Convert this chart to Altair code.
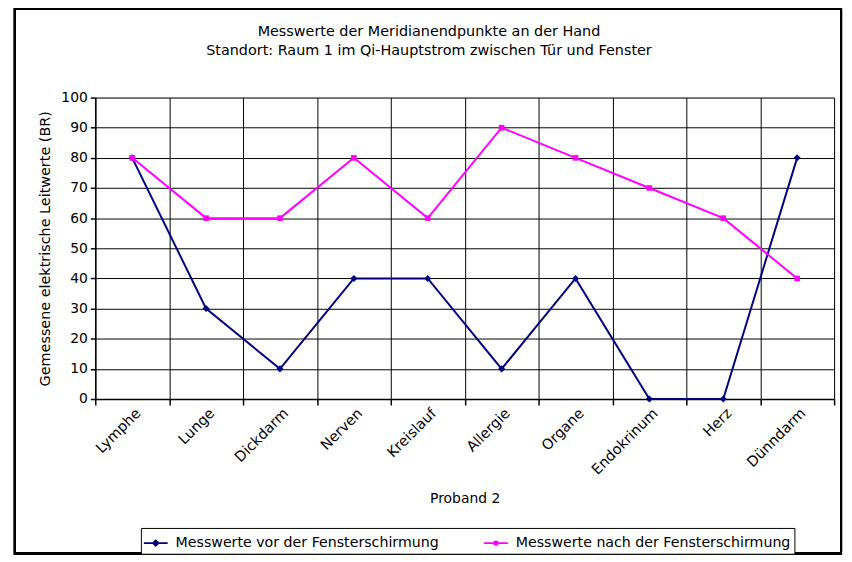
import altair as alt
import pandas as pd

categories = ["Lymphe", "Lunge", "Dickdarm", "Nerven", "Kreislauf",
              "Allergie", "Organe", "Endokrinum", "Herz", "Dünndarm"]
vor = [80, 30, 10, 40, 40, 10, 40, 0, 0, 80]
nach = [80, 60, 60, 80, 60, 90, 80, 70, 60, 40]
series_names = ["Messwerte vor der Fensterschirmung",
                "Messwerte nach der Fensterschirmung"]
series_colors = ["#000080", "#FF00FF"]
y_ticks = [0, 10, 20, 30, 40, 50, 60, 70, 80, 90, 100]

rows = []
for i, c in enumerate(categories):
    rows.append({"Kategorie": c, "Wert": vor[i], "Serie": series_names[0], "order": i})
    rows.append({"Kategorie": c, "Wert": nach[i], "Serie": series_names[1], "order": i})
df = pd.DataFrame(rows)

FONT = "DejaVu Sans"

diamond_leg = ("M-1,-0.07 L-0.26,-0.07 L0,-0.32 L0.26,-0.07 L1,-0.07 L1,0.07 "
               "L0.26,0.07 L0,0.32 L-0.26,0.07 L-1,0.07 Z")
square_leg = ("M-1,-0.07 L-0.2,-0.07 L-0.2,-0.2 L0.2,-0.2 L0.2,-0.07 L1,-0.07 "
              "L1,0.07 L0.2,0.07 L0.2,0.2 L-0.2,0.2 L-0.2,0.07 L-1,0.07 Z")

color_scale = alt.Scale(domain=series_names, range=series_colors)
legend = alt.Legend(title=None, orient="none", direction="horizontal",
                    legendX=46, legendY=434,
                    labelFont=FONT, labelFontSize=14.3, labelColor="black",
                    labelLimit=500,
                    symbolSize=576, symbolStrokeWidth=0, symbolOpacity=1,
                    labelOffset=8, columnPadding=45, padding=3,
                    fillColor="white", strokeColor="black")

x_enc = alt.X("Kategorie:N", sort=categories,
              scale=alt.Scale(paddingInner=0, paddingOuter=0),
              axis=alt.Axis(title="Proband 2", tickBand="extent", grid=True,
                            gridColor="black", gridOpacity=1, gridWidth=1,
                            domainColor="black", domainWidth=1.5,
                            tickColor="black", tickSize=6, tickWidth=1.5,
                            labelAngle=-45, labelAlign="right", labelBaseline="middle",
                            labelPadding=6, labelOffset=6,
                            labelFont=FONT, labelFontSize=14.5, labelColor="black",
                            titleFont=FONT, titleFontSize=14, titleFontWeight="normal",
                            titleColor="black", titleY=100, titleBaseline="middle"))
y_enc = alt.Y("Wert:Q", scale=alt.Scale(domain=[0, 100], nice=False),
              axis=alt.Axis(title="Gemessene elektrische Leitwerte (BR)",
                            values=y_ticks, grid=True, gridColor="black",
                            gridOpacity=1, gridWidth=1,
                            domainColor="black", domainWidth=1.5,
                            tickColor="black", tickSize=5, tickWidth=1.5,
                            labelFont=FONT, labelFontSize=14, labelColor="black",
                            labelPadding=3,
                            titleFont=FONT, titleFontSize=14.5, titleFontWeight="normal",
                            titleColor="black", titlePadding=8))

base = alt.Chart(df)

legend_layer = base.transform_filter("false").mark_point(
    filled=True, opacity=1).encode(
    x=x_enc, y=y_enc,
    color=alt.Color("Serie:N", scale=color_scale, legend=legend),
    shape=alt.Shape("Serie:N", scale=alt.Scale(domain=series_names,
                                               range=[diamond_leg, square_leg]),
                    legend=legend))

lines = base.mark_line(strokeWidth=2).encode(
    x=x_enc, y=y_enc,
    color=alt.Color("Serie:N", scale=color_scale, legend=legend),
    order="order:Q")

pts_vor = base.transform_filter(alt.datum.Serie == series_names[0]).mark_point(
    filled=True, size=50, opacity=1, shape="diamond").encode(
    x=x_enc, y=y_enc, color=alt.Color("Serie:N", scale=color_scale, legend=legend))
pts_nach = base.transform_filter(alt.datum.Serie == series_names[1]).mark_point(
    filled=True, size=32, opacity=1, shape="square").encode(
    x=x_enc, y=y_enc, color=alt.Color("Serie:N", scale=color_scale, legend=legend))

frame = base.mark_rect(fill=None, stroke="black", strokeWidth=2).encode(
    x=alt.value(-81), x2=alt.value(752), y=alt.value(-90), y2=alt.value(460))

chart = alt.layer(legend_layer, frame, lines, pts_vor, pts_nach).properties(
    width=745, height=304,
    title=alt.TitleParams(
        text=["Messwerte der Meridianendpunkte an der Hand",
              "Standort: Raum 1 im Qi-Hauptstrom zwischen Tür und Fenster"],
        font=FONT, fontSize=14.5, fontWeight="normal", color="black",
        anchor="middle", dx=-36, offset=-52, lineHeight=20),
    autosize=alt.AutoSizeParams(type="none"),
    padding={"left": 88, "top": 88, "right": 10, "bottom": 157}
).configure_view(
    fill="#CCFFFF", stroke="#808080", strokeWidth=2
).configure(background="white")

chart.save("out.html", embed_options={"renderer": "svg", "actions": False})
